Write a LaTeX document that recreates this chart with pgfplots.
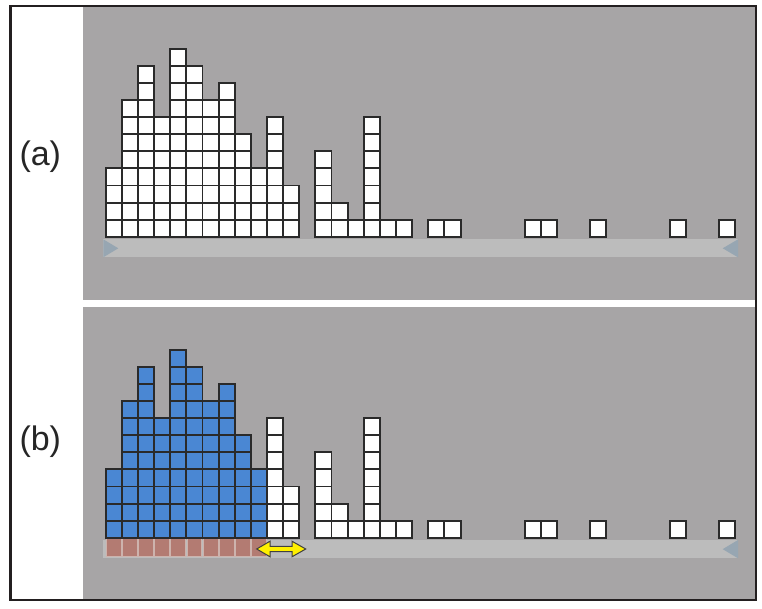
\documentclass[border=0pt]{standalone}
\usepackage{pgfplots}
\pgfplotsset{compat=1.18}
\usepackage{pgfplotstable}
\usepackage{fontspec}
\setmainfont{Liberation Sans}
\definecolor{panelgray}{HTML}{A7A5A6}
\definecolor{trackgray}{HTML}{BCBCBC}
\definecolor{trigray}{HTML}{97A6B2}
\definecolor{cellline}{HTML}{2A2A2A}
\definecolor{cellblue}{HTML}{4A87D3}
\definecolor{cellbrown}{HTML}{B37B72}
\definecolor{brownedge}{HTML}{CDB3AD}
\definecolor{framecol}{HTML}{231F20}
\definecolor{arrowyellow}{HTML}{FFF000}

% column index and number of unit squares in it
\pgfplotstableread{
c h
0 4
1 8
2 10
3 7
4 11
5 10
6 8
7 9
8 6
9 4
}\lefttbl
\pgfplotstableread{
c h
10 7
11 3
13 5
14 2
15 1
16 7
17 1
18 1
20 1
21 1
26 1
27 1
30 1
35 1
38 1
}\righttbl
% selection strip under the blue columns (depth of strip)
\pgfplotstableread{
c h
0 -1.07
1 -1.07
2 -1.07
3 -1.07
4 -1.07
5 -1.07
6 -1.07
7 -1.07
8 -1.07
9 -1.07
}\striptbl

\pgfplotsset{
  panel/.style={scale only axis, width=672pt, height=293pt,
    xmin=-1.908, xmax=39.754, hide axis, anchor=south west},
  cellfill/.style={ybar, bar width=1, bar shift=0pt, draw=none},
  cellgrid/.style={ybar, bar width=1, bar shift=0pt, fill=none,
    draw=cellline, line width=1.9pt},
}
\newcommand{\cells}[2]{%
  \addplot[cellfill, fill=#2] table[x=c,y=h]{#1};
  \pgfplotsinvokeforeach{1,...,11}{%
    \addplot[cellgrid] table[x=c, y expr={min(\thisrow{h},##1)}]{#1};}%
}

\begin{document}
\begin{tikzpicture}[x=1pt,y=1pt]
\useasboundingbox (0,0) rectangle (762,609);
% panels
\fill[panelgray] (83,309) rectangle (756,602);
\fill[panelgray] (83,9) rectangle (756,302);
% track (a)
\fill[trackgray] (103.3,351.7) rectangle (738,369.7);
\fill[trigray] (103.3,369.7) -- (118.3,360.7) -- (103.3,351.7) -- cycle;
\fill[trigray] (738,369.7) -- (722.7,360.7) -- (738,351.7) -- cycle;
% track (b)
\fill[trackgray] (103.3,50.7) rectangle (738,69);
\fill[trigray] (738,69) -- (722.7,59.85) -- (738,50.7) -- cycle;

% panel (a)
\begin{axis}[panel, at={(83pt,309pt)}, ymin=-3.708, ymax=13.456]
  \cells{\lefttbl}{white}
  \cells{\righttbl}{white}
\end{axis}

% panel (b)
\begin{axis}[panel, at={(83pt,9pt)}, ymin=-3.65, ymax=13.515]
  \addplot[ybar, bar width=0.92, bar shift=0pt, fill=cellbrown,
    draw=brownedge, line width=0.8pt] table[x=c,y=h]{\striptbl};
  \cells{\lefttbl}{cellblue}
  \cells{\righttbl}{white}
\end{axis}

% double arrow
\filldraw[fill=arrowyellow, draw=black!75, line width=1pt, line join=miter]
  (256.7,60) -- (270,67.8) -- (270,62.6) -- (292,62.6) -- (292,67.8)
  -- (305.7,60) -- (292,52.2) -- (292,57.4) -- (270,57.4) -- (270,52.2) -- cycle;

% labels
\node[anchor=base, font=\fontsize{34}{40}\selectfont, text=black!85, inner sep=0pt] at (40.3,443.4) {(a)};
\node[anchor=base, font=\fontsize{34}{40}\selectfont, text=black!85, inner sep=0pt] at (40.3,158.4) {(b)};

% frame
\draw[framecol, line width=2.5pt] (10.3,9) rectangle (756,603);
\end{tikzpicture}
\end{document}
